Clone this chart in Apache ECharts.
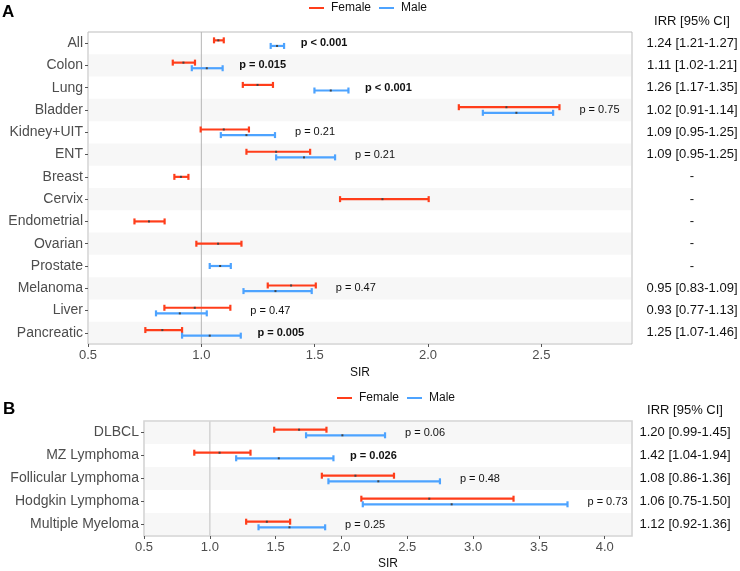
<!DOCTYPE html>
<html><head><meta charset="utf-8">
<script src="https://cdn.jsdelivr.net/npm/echarts@6/dist/echarts.min.js"></script>
<style>html,body{margin:0;padding:0;background:#fff}#c{width:740px;height:571px}</style>
</head><body><div id="c"></div>
<script>
// ---------- Panel A data ----------
const catsA = ['All','Colon','Lung','Bladder','Kidney+UIT','ENT','Breast','Cervix','Endometrial','Ovarian','Prostate','Melanoma','Liver','Pancreatic'];
const femEstA = [1.075,0.921,1.248,2.346,1.099,1.330,0.910,1.799,0.769,1.074,null,1.396,0.971,0.828];
const femLoA  = [1.056,0.874,1.183,2.136,0.997,1.199,0.881,1.612,0.705,0.978,null,1.293,0.837,0.753];
const femHiA  = [1.099,0.972,1.316,2.580,1.210,1.480,0.943,2.003,0.838,1.177,null,1.505,1.128,0.915];
const maleEstA = [1.334,1.024,1.571,2.390,1.199,1.453,null,null,null,null,1.083,1.327,0.905,1.037];
const maleLoA  = [1.306,0.958,1.499,2.242,1.086,1.330,null,null,null,null,1.037,1.186,0.800,0.915];
const maleHiA  = [1.365,1.094,1.649,2.552,1.325,1.590,null,null,null,null,1.130,1.487,1.024,1.174];
const pLabelA = ['p < 0.001','p = 0.015','p < 0.001','p = 0.75','p = 0.21','p = 0.21','','','','','','p = 0.47','p = 0.47','p = 0.005'];
const irrA = ['1.24 [1.21-1.27]','1.11 [1.02-1.21]','1.26 [1.17-1.35]','1.02 [0.91-1.14]','1.09 [0.95-1.25]','1.09 [0.95-1.25]','-','-','-','-','-','0.95 [0.83-1.09]','0.93 [0.77-1.13]','1.25 [1.07-1.46]'];
const xTicksA = [0.5,1.0,1.5,2.0,2.5];

// ---------- Panel B data ----------
const catsB = ['DLBCL','MZ Lymphoma','Follicular Lymphoma','Hodgkin Lymphoma','Multiple Myeloma'];
const femEstB = [1.678,1.074,2.106,2.667,1.433];
const femLoB  = [1.489,0.882,1.851,2.151,1.276];
const femHiB  = [1.886,1.309,2.399,3.307,1.610];
const maleEstB = [2.007,1.524,2.280,2.837,1.605];
const maleLoB  = [1.731,1.200,1.901,2.162,1.370];
const maleHiB  = [2.331,1.939,2.748,3.717,1.876];
const pLabelB = ['p = 0.06','p = 0.026','p = 0.48','p = 0.73','p = 0.25'];
const irrB = ['1.20 [0.99-1.45]','1.42 [1.04-1.94]','1.08 [0.86-1.36]','1.06 [0.75-1.50]','1.12 [0.92-1.36]'];
const xTicksB = [0.5,1.0,1.5,2.0,2.5,3.0,3.5,4.0];

const refLine = 1.0;
const FEMALE = '#FF3D1A', MALE = '#4DA3FF';
const FONT = 'Liberation Sans, Arial, Helvetica, sans-serif';

function isSig(lbl){
  if(!lbl) return false;
  if(lbl.indexOf('<')>=0) return true;
  const v = parseFloat(lbl.split('=')[1]);
  return v < 0.05;
}

function barRender(color){
  return function(params, api){
    const idx=api.value(0), est=api.value(1), lo=api.value(2), hi=api.value(3), off=api.value(4);
    const pLo=api.coord([lo, idx]), pHi=api.coord([hi, idx]), pE=api.coord([est, idx]);
    const y=pLo[1]+off, cap=3;
    const st={stroke:color,lineWidth:2.2};
    return {type:'group', children:[
      {type:'line', shape:{x1:pLo[0],y1:y,x2:pHi[0],y2:y}, style:st},
      {type:'line', shape:{x1:pLo[0],y1:y-cap,x2:pLo[0],y2:y+cap}, style:st},
      {type:'line', shape:{x1:pHi[0],y1:y-cap,x2:pHi[0],y2:y+cap}, style:st},
      {type:'rect', shape:{x:pE[0]-1,y:y-1,width:2,height:2}, style:{fill:'#444'}}
    ]};
  };
}

function panelSeries(gi, cats, fE, fL, fH, mE, mL, mH, pLab, irr, irrX, minX){
  const n = cats.length;
  const series = [];
  series.push({
    type:'custom', xAxisIndex:gi, yAxisIndex:gi, silent:true, z:1,
    data: cats.map((c,i)=>[minX,i]), encode:{x:0,y:1},
    renderItem:function(params, api){
      const i=api.value(1);
      if((n-1-i)%2!==0) return null;
      const cs=params.coordSys; const p=api.coord([minX,i]); const h=api.size([0,1])[1];
      let y0=Math.max(p[1]-h/2, cs.y+1), y1=Math.min(p[1]+h/2, cs.y+cs.height-1);
      return {type:'rect', shape:{x:cs.x+1,y:y0,width:cs.width-2,height:y1-y0}, style:{fill:'#f7f7f7'}};
    }
  });
  series.push({
    type:'custom', xAxisIndex:gi, yAxisIndex:gi, silent:true, z:2,
    data:[[refLine,0]], encode:{x:0,y:1},
    renderItem:function(params, api){
      const cs=params.coordSys; const x=api.coord([api.value(0),0])[0];
      return {type:'line', shape:{x1:x,y1:cs.y,x2:x,y2:cs.y+cs.height}, style:{stroke:gi===0?'#b5b5b5':'#d6d6d6',lineWidth:gi===0?1:1.6}};
    }
  });
  const fData=[], mData=[];
  for(let i=0;i<n;i++){
    const both = fE[i]!=null && mE[i]!=null;
    if(fE[i]!=null) fData.push([i,fE[i],fL[i],fH[i], both?-2.8:0]);
    if(mE[i]!=null) mData.push([i,mE[i],mL[i],mH[i], both?2.8:0]);
  }
  series.push({name:'Female', type:'custom', xAxisIndex:gi, yAxisIndex:gi, z:5, itemStyle:{color:FEMALE},
    data:fData, encode:{x:[1,2,3],y:0}, renderItem:barRender(FEMALE)});
  series.push({name:'Male', type:'custom', xAxisIndex:gi, yAxisIndex:gi, z:5, itemStyle:{color:MALE},
    data:mData, encode:{x:[1,2,3],y:0}, renderItem:barRender(MALE)});
  const pData=[];
  for(let i=0;i<n;i++){
    if(!pLab[i]) continue;
    const hi=Math.max(fH[i]==null?-Infinity:fH[i], mH[i]==null?-Infinity:mH[i]);
    pData.push([hi,i,pLab[i]]);
  }
  series.push({type:'custom', xAxisIndex:gi, yAxisIndex:gi, silent:true, z:6,
    data:pData, encode:{x:0,y:1},
    renderItem:function(params, api){
      const p=api.coord([api.value(0),api.value(1)]);
      const lbl=pData[params.dataIndex][2];
      return {type:'text', style:{text:lbl, x:p[0]+40, y:p[1], align:'center', verticalAlign:'middle',
        font:(isSig(lbl)?'bold ':'')+'11px '+FONT, fill:'#111'}};
    }
  });
  series.push({type:'custom', xAxisIndex:gi, yAxisIndex:gi, silent:true, z:6,
    data:cats.map((c,i)=>[minX,i]), encode:{x:0,y:1},
    renderItem:function(params, api){
      const p=api.coord([minX,api.value(1)]);
      return {type:'text', style:{text:irr[params.dataIndex], x:irrX, y:p[1], align:'center', verticalAlign:'middle',
        font:'13px '+FONT, fill:'#111'}};
    }
  });
  return series;
}

function xAxisCfg(gi, min, max, ticks, gap){
  return {type:'value', gridIndex:gi, min:min, max:max, interval:0.5,
    name:'SIR', nameLocation:'middle', nameGap:gap, nameTextStyle:{fontSize:12, color:'#111', fontFamily:FONT},
    axisLine:{show:false}, splitLine:{show:false},
    axisTick:{show:true, length:3, customValues:ticks, lineStyle:{color:'#555'}},
    axisLabel:{fontSize:13, color:'#4d4d4d', fontFamily:FONT, margin:5, customValues:ticks,
      formatter:function(v){ return Number(v).toFixed(1); }}
  };
}
function yAxisCfg(gi, cats){
  return {type:'category', gridIndex:gi, data:cats, inverse:true,
    axisLine:{show:false}, splitLine:{show:false},
    axisTick:{show:true, length:3, alignWithLabel:true, lineStyle:{color:'#555'}},
    axisLabel:{fontSize:14, color:'#4d4d4d', fontFamily:FONT, margin:5}
  };
}

const chart = echarts.init(document.getElementById('c'), null, {renderer:'canvas'});
const legendCommon = {data:['Female','Male'], icon:'rect', itemWidth:15, itemHeight:2, itemGap:8,
  textStyle:{fontSize:12, color:'#111', fontFamily:FONT, padding:[0,0,0,2]}, selectedMode:false};
chart.setOption({
  animation:false,
  backgroundColor:'#fff',
  legend:[
    Object.assign({left:304, top:-3}, legendCommon),
    Object.assign({left:332, top:387}, legendCommon)
  ],
  grid:[
    {left:88, top:32, width:544, height:312, show:true, borderColor:'#bdbdbd', borderWidth:1, backgroundColor:'transparent'},
    {left:144, top:421, width:488, height:118, show:true, borderColor:'#d4d4d4', borderWidth:1.6, backgroundColor:'transparent'}
  ],
  xAxis:[xAxisCfg(0,0.5,2.9,xTicksA,20), xAxisCfg(1,0.5,4.207,xTicksB,22)],
  yAxis:[yAxisCfg(0,catsA), yAxisCfg(1,catsB)],
  graphic:[
    {type:'text', left:2, top:4, style:{text:'A', font:'bold 17px '+FONT, fill:'#000'}},
    {type:'text', left:3, top:401, style:{text:'B', font:'bold 17px '+FONT, fill:'#000'}},
    {type:'text', x:692, y:21, style:{text:'IRR [95% CI]', align:'center', verticalAlign:'middle', font:'13px '+FONT, fill:'#111'}},
    {type:'text', x:685, y:410, style:{text:'IRR [95% CI]', align:'center', verticalAlign:'middle', font:'13px '+FONT, fill:'#111'}}
  ],
  series: panelSeries(0, catsA, femEstA, femLoA, femHiA, maleEstA, maleLoA, maleHiA, pLabelA, irrA, 692, 0.5)
    .concat(panelSeries(1, catsB, femEstB, femLoB, femHiB, maleEstB, maleLoB, maleHiB, pLabelB, irrB, 685, 0.5))
});
</script>
</body></html>
